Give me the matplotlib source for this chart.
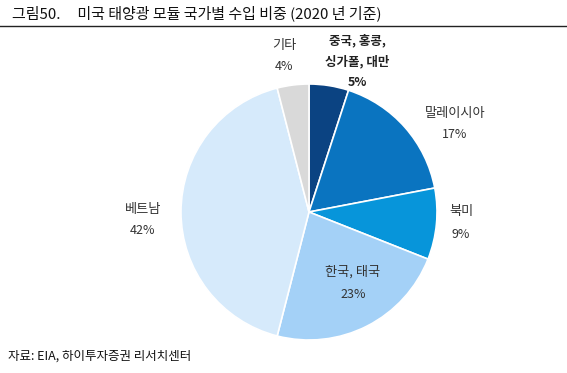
import matplotlib
matplotlib.use("Agg")
import matplotlib.pyplot as plt

plt.rcParams['font.family'] = ['Noto Sans CJK KR', 'DejaVu Sans']

labels = ['중국, 홍콩,\n싱가폴, 대만', '말레이시아', '북미', '한국, 태국', '베트남', '기타']
shares = [5, 17, 9, 23, 42, 4]
colors = ['#0b4382', '#0a74c0', '#0795da', '#a4d1f7', '#d6eafb', '#d9d9d9']

W, H = 567, 373
fig = plt.figure(figsize=(W / 100, H / 100), dpi=100)
ax = fig.add_axes([0, 0, 1, 1])

cx, cy, r = 309, H - 212, 128
ax.pie(shares, colors=colors, startangle=90, counterclock=False,
       center=(cx, cy), radius=r,
       wedgeprops=dict(edgecolor='white', linewidth=1.2))
ax.set_xlim(0, W)
ax.set_ylim(0, H)
ax.set_aspect('auto')
ax.axis('off')

# label positions in pixel coords (x, y from top)
label_pos = [(357, 51), (455, 113), (461, 212), (353, 272), (143, 209), (284, 45)]
for i, (lab, val) in enumerate(zip(labels, shares)):
    x, y = label_pos[i]
    if i == 0:
        ax.text(x, H - y, lab, ha='center', va='center', fontsize=9,
                fontweight='bold', color='#222222', linespacing=1.75)
        ax.text(x, H - 82, f'{val}%', ha='center', va='center', fontsize=9,
                fontweight='bold', color='#222222')
    else:
        ax.text(x, H - y, lab, ha='center', va='center', fontsize=9.5, color='#333333')
        ax.text(x, H - y - 22, f'{val}%', ha='center', va='center', fontsize=9,
                color='#333333')

fig.text(12 / W, 1 - 13 / H, '그림50.     미국 태양광 모듈 국가별 수입 비중 (2020 년 기준)',
         ha='left', va='center', fontsize=10.8, color='#111111')
fig.add_artist(plt.Line2D([0, 1], [1 - 26 / H, 1 - 26 / H], color='#222222', linewidth=1))
fig.text(8 / W, 1 - 356 / H, '자료: EIA, 하이투자증권 리서치센터', ha='left', va='center',
         fontsize=9, color='#111111')

fig.savefig('out.png', dpi=100)
